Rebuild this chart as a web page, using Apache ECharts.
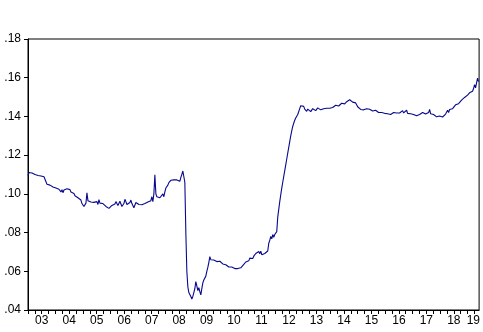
<!DOCTYPE html>
<html>
<head>
<meta charset="utf-8">
<script src="https://cdn.jsdelivr.net/npm/echarts@6/dist/echarts.min.js"></script>
<style>
html,body{margin:0;padding:0;background:#fff;}
#c{width:483px;height:332px;}
</style>
</head>
<body>
<div id="c"></div>
<script>
// Regular sampling of the series (roughly every 13 days), starting at 2003.0
const startYear = 2003.0;
const samplesPerYear = 27.5;
const values = [
.1095,.1110,.1100,.1115,.1108,.1112,.1104,.1100,.1106,.1098,
.1095,.1102,.1100,.1092,.1098,.1096,.1088,.1092,.1085,.1050,
.1058,.1052,.1045,.1050,.1040,.1035,.1042,.1036,.1030,.1022,
.1032,.1024,.1028,.1010,.1022,.1006,.1020,.1018,.1028,.1026,
.1028,.1018,.1022,.1010,.1010,.1000,.1002,.0990,.0998,.0988,
.0980,.0984,.0978,.0968,.0950,.0940,.0935,.0945,.0952,.1005,
.0965,.0960,.0962,.0958,.0958,.0962,.0956,.0955,.0950,.0960,
.0945,.0970,.0952,.0948,.0945,.0950,.0952,.0940,.0935,.0940,
.0945,.0925,.0918,.0932,.0940,.0950,.0940,.0948,.0960,.0965,
.0940,.0938,.0962,.0958,.0935,.0942,.0950,.0972,.0960,.0945,
.0955,.0940,.0955,.0968,.0950,.0945,.0928,.0935,.0955,.0948,
.0960,.0945,.0950,.0948,.0944,.0942,.0946,.0950,.0952,.0948,
.0958,.0955,.0948,.0965,.0985,.0960,.1000,.1098,.1000,.0985,
.0990,.0975,.0980,.0970,.0990,.1000,.0985,.1010,.1030,.1020,
.1045,.1058,.1062,.1070,.1065,.1068,.1072,.1068,.1075,.1072,
.1070,.1078,.1065,.1085,.1100,.1118,.1110,.1060,.0800,.0600,
.0520,.0490,.0488,.0470,.0457,.0470,.0490,.0510,.0547,.0525,
.0500,.0515,.0495,.0478,.0510,.0540,.0555,.0560,.0575,.0600,
.0620,.0645,.0676,.0660,.0652,.0670,.0658,.0662,.0655,.0650,
.0660,.0644,.0652,.0644,.0646,.0638,.0640,.0632,.0634,.0628,
.0630,.0622,.0625,.0618,.0622,.0616,.0618,.0614,.0616,.0608,
.0614,.0606,.0614,.0618,.0628,.0626,.0636,.0638,.0648,.0646,
.0656,.0654,.0668,.0658,.0674,.0666,.0678,.0680,.0692,.0696,
.0688,.0702,.0690,.0704,.0686,.0694,.0690,.0692,.0688,.0692,
.0705,.0745,.0760,.0780,.0768,.0790,.0775,.0790,.0795,.0805,
.0880,.0920,.0960,.0995,.1030,.1060,.1090,.1120,.1150,.1180,
.1210,.1240,.1270,.1300,.1325,.1348,.1365,.1380,.1392,.1402,
.1410,.1420,.1440,.1455,.1460,.1445,.1452,.1438,.1430,.1426,
.1438,.1428,.1436,.1425,.1435,.1440,.1432,.1438,.1430,.1440,
.1444,.1436,.1440,.1434,.1442,.1432,.1440,.1446,.1438,.1442,
.1444,.1450,.1442,.1448,.1450,.1446,.1455,.1450,.1458,.1455,
.1460,.1454,.1462,.1458,.1468,.1464,.1470,.1465,.1472,.1476,
.1478,.1482,.1486,.1478,.1484,.1474,.1476,.1468,.1470,.1460,
.1450,.1455,.1440,.1436,.1442,.1438,.1434,.1440,.1436,.1440,
.1436,.1432,.1437,.1430,.1433,.1428,.1432,.1426,.1432,.1425,
.1425,.1420,.1424,.1418,.1420,.1414,.1422,.1416,.1418,.1412,
.1414,.1408,.1412,.1410,.1416,.1412,.1420,.1414,.1410,.1418,
.1420,.1424,.1418,.1424,.1416,.1430,.1418,.1424,.1426,.1432,
.1416,.1422,.1420,.1414,.1412,.1406,.1410,.1402,.1410,.1403,
.1398,.1406,.1410,.1414,.1410,.1420,.1412,.1416,.1412,.1418,
.1414,.1420,.1436,.1414,.1418,.1412,.1410,.1404,.1402,.1398,
.1404,.1398,.1402,.1396,.1400,.1397,.1402,.1400,.1412,.1418,
.1432,.1420,.1436,.1434,.1442,.1440,.1450,.1448,.1460,.1462,
.1470,.1466,.1476,.1474,.1484,.1482,.1494,.1498,.1504,.1500,
.1510,.1508,.1522,.1520,.1532,.1530,.1544,.1564,.1548,.1540,
.1598,.1580
];
// x-axis tick labels (year midpoints; last year is partial)
const yearLabels = ['03','04','05','06','07','08','09','10','11','12','13','14','15','16','17','18','19'];
const labelPositions = [2003.5,2004.5,2005.5,2006.5,2007.5,2008.5,2009.5,2010.5,2011.5,2012.5,2013.5,2014.5,2015.5,2016.5,2017.5,2018.5,2019.21];

const xMin = 2003.0, xMax = 2019.42;
const data = values.map((v, i) => [startYear + i / samplesPerYear, v]);
const quarterTicks = [];
for (let q = 0; xMin + q * 0.25 <= xMax; q++) quarterTicks.push(xMin + q * 0.25);

const font = "'Liberation Sans', Arial, sans-serif";
const chart = echarts.init(document.getElementById('c'), null, {renderer: 'canvas'});
chart.setOption({
  animation: false,
  backgroundColor: '#ffffff',
  grid: {left: 28, right: 3, top: 39, bottom: 22, show: true, borderColor: '#000', borderWidth: 1, backgroundColor: 'transparent'},
  xAxis: {
    type: 'value', min: xMin, max: xMax,
    axisLine: {show: true, lineStyle: {color: '#000', width: 1}},
    axisTick: {show: true, length: 4, inside: false, customValues: quarterTicks, lineStyle: {color: '#000', width: 1}},
    axisLabel: {
      show: true, customValues: labelPositions, margin: 5, hideOverlap: false,
      color: '#000', fontFamily: font, fontSize: 12,
      formatter: v => {
        let best = 0;
        labelPositions.forEach((p, i) => { if (Math.abs(p - v) < Math.abs(labelPositions[best] - v)) best = i; });
        return yearLabels[best];
      }
    },
    splitLine: {show: false}
  },
  yAxis: {
    type: 'value', min: 0.04, max: 0.18, interval: 0.02,
    axisLine: {show: true, lineStyle: {color: '#000', width: 1}},
    axisTick: {show: true, length: 4, lineStyle: {color: '#000', width: 1}},
    axisLabel: {
      margin: 7, color: '#000', fontFamily: font, fontSize: 12,
      formatter: v => v.toFixed(2).replace(/^0/, '')
    },
    splitLine: {show: false}
  },
  series: [{
    type: 'line', data: data, showSymbol: false, symbol: 'none',
    lineStyle: {color: '#08088f', width: 1.1}, itemStyle: {color: '#08088f'},
    silent: true
  }]
});
</script>
</body>
</html>
